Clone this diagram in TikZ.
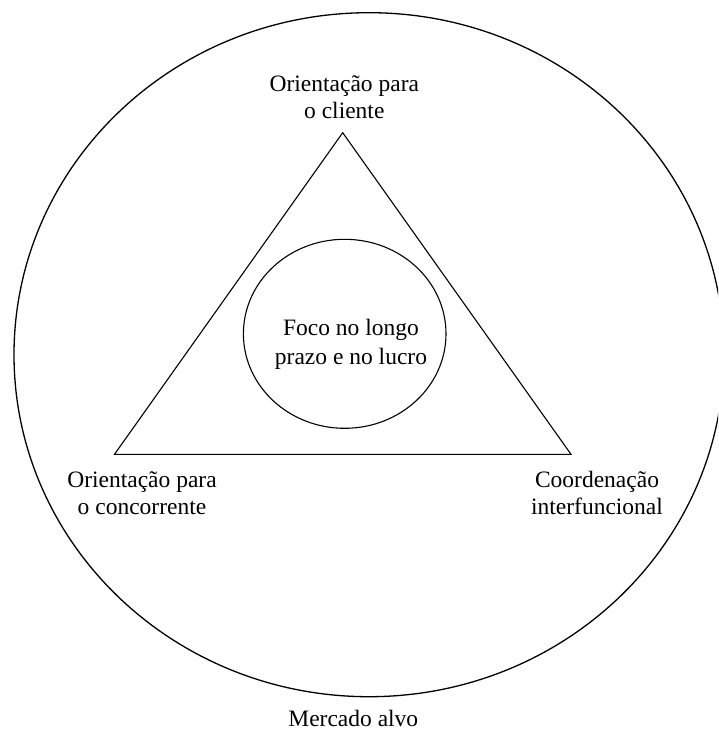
\documentclass[tikz,border=0pt]{standalone}
\usepackage{fontspec}
\setmainfont{Liberation Serif}
\begin{document}
\begin{tikzpicture}[x=1pt,y=-1pt,
  lbl/.style={align=center,anchor=base,inner sep=0pt,font=\fontsize{23.5}{27.5}\selectfont},
  shapeline/.style={draw=black,line width=1.1pt}]
\useasboundingbox (0,0) rectangle (718,731);
\clip (0,0) rectangle (718,731);
% outer market ellipse
\draw[line width=1.3pt] (369,354.7) ellipse [x radius=355, y radius=342];
% triangle
\coordinate (apex) at (342.7,132.7);
\coordinate (bl) at (114.5,454.3);
\coordinate (br) at (571,454.3);
\draw[shapeline,line join=miter] (apex) -- (bl) -- (br) -- cycle;
% inner ellipse
\draw[shapeline] (344.7,333.8) ellipse [x radius=101.3, y radius=94.5];
% labels (base anchor = baseline of the last line)
\node[lbl,font=\fontsize{23.5}{28.5}\selectfont] (foco) at (351,364) {Foco no longo\\prazo e no lucro};
\node[lbl] (cliente) at (344.3,118.8) {Orientação para\\o cliente};
\node[lbl] (concorrente) at (142,514.5) {Orientação para\\o concorrente};
\node[lbl] (coord) at (597,514.5) {Coordenação\\interfuncional};
\node[lbl] (mercado) at (353.3,726) {Mercado alvo};
\end{tikzpicture}
\end{document}
